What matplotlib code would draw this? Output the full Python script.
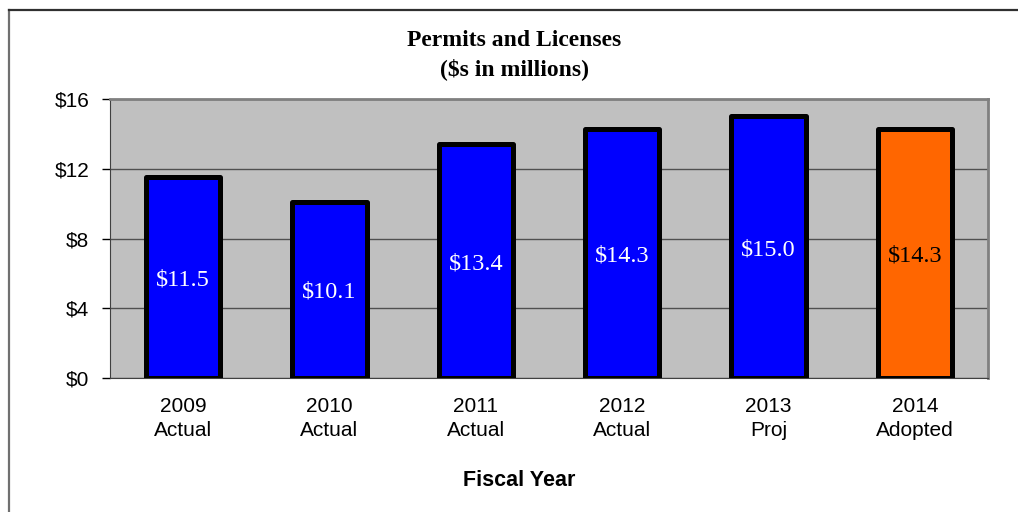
import matplotlib.pyplot as plt
import numpy as np
from matplotlib.lines import Line2D

# Data
years = ['2009', '2010', '2011', '2012', '2013', '2014']
stages = ['Actual', 'Actual', 'Actual', 'Actual', 'Proj', 'Adopted']
revenue = [11.5, 10.1, 13.4, 14.3, 15.0, 14.3]
bar_colors = ['#0000FF', '#0000FF', '#0000FF', '#0000FF', '#0000FF', '#FF6600']
label_colors = ['white', 'white', 'white', 'white', 'white', 'black']

x_pos = np.arange(len(years))

fig = plt.figure(figsize=(10.18, 5.12), dpi=100)
ax = fig.add_axes([110/1018, 1 - 378/512, 878/1018, 279/512])

ax.set_facecolor('#C0C0C0')
ax.bar(x_pos, revenue, 0.51, color=bar_colors, edgecolor='black',
       linewidth=3.6, joinstyle='round', zorder=3)

for xi, v, c in zip(x_pos, revenue, label_colors):
    ax.text(xi, v / 2, '$%.1f' % v, ha='center', va='center_baseline', color=c,
            fontsize=17.5, family='Liberation Serif', zorder=4)

ax.set_xlim(-0.5, 5.5)
ax.set_ylim(0, 16)
ax.set_yticks([0, 4, 8, 12, 16])
ax.set_yticklabels(['$0', '$4', '$8', '$12', '$16'], family='Liberation Sans', fontsize=15)
ax.set_xticks(x_pos)
ax.set_xticklabels([y + '\n' + s for y, s in zip(years, stages)],
                   family='Liberation Sans', fontsize=15, linespacing=1.3)
ax.tick_params(axis='x', length=0, pad=14)
ax.tick_params(axis='y', length=6, width=1, direction='out', pad=9)

ax.grid(axis='y', color='#505050', linewidth=1, zorder=1)
for side in ['top', 'right']:
    ax.spines[side].set_color('#808080')
    ax.spines[side].set_linewidth(2)
ax.spines['left'].set_color('#404040')
ax.spines['bottom'].set_color('#404040')

fig.text(514/1018, 1 - 40/512, 'Permits and Licenses', ha='center', va='center',
         fontsize=17, fontweight='bold', family='Liberation Serif')
fig.text(514/1018, 1 - 69/512, '($s in millions)', ha='center', va='center',
         fontsize=17, fontweight='bold', family='Liberation Serif')
fig.text(519/1018, 1 - 481/512, 'Fiscal Year', ha='center', va='center',
         fontsize=15.5, fontweight='bold', family='Liberation Sans')

# Outer chart frame: only the left and top edges fall inside the image
fx = 8.5 / 1018
fy = 1 - 9.5 / 512
fig.lines.append(Line2D([fx, fx], [0, fy], transform=fig.transFigure,
                        color='#707070', linewidth=1.6))
fig.lines.append(Line2D([fx, 1], [fy, fy], transform=fig.transFigure,
                        color='#303030', linewidth=1.6))

fig.savefig('out.png', dpi=100)
